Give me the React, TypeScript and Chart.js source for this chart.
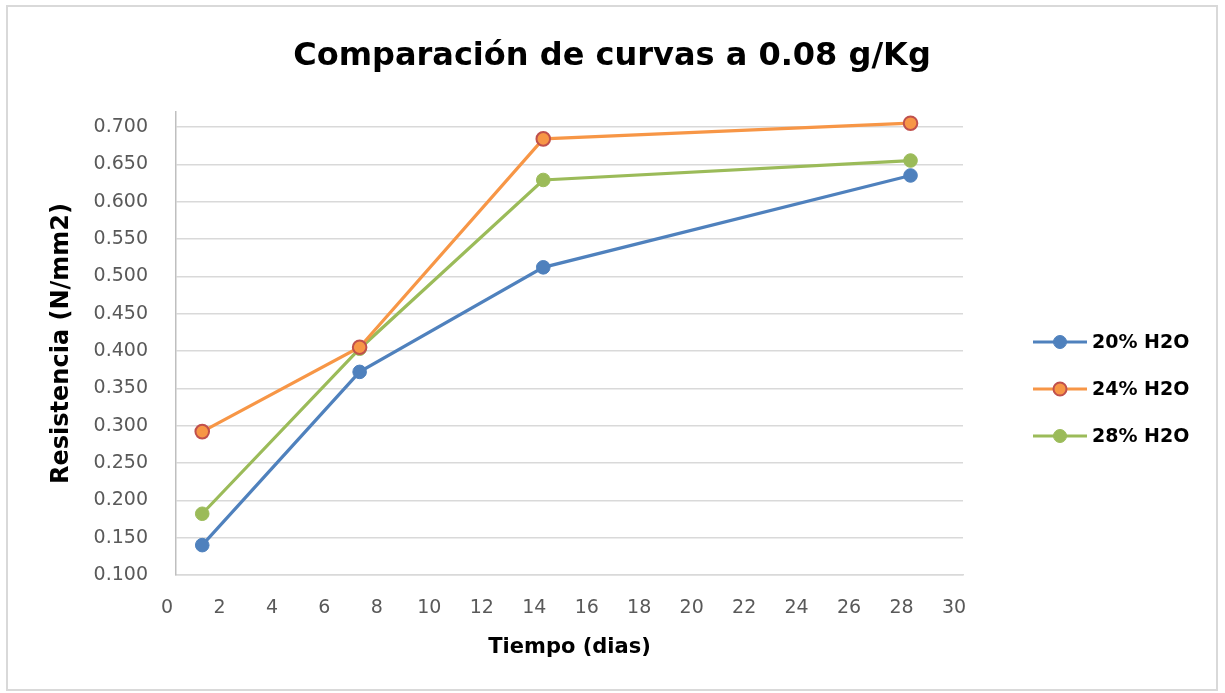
import React, { useEffect, useRef } from "react";
import { Chart, registerables } from "chart.js";

Chart.register(...registerables);

const days = [1, 7, 14, 28];
const seriesNames = ["20% H2O", "24% H2O", "28% H2O"];
const h2o20 = [0.14, 0.372, 0.512, 0.635];
const h2o24 = [0.292, 0.405, 0.684, 0.705];
const h2o28 = [0.182, 0.403, 0.629, 0.655];
const yTickValues = [0.1, 0.15, 0.2, 0.25, 0.3, 0.35, 0.4, 0.45, 0.5, 0.55, 0.6, 0.65, 0.7];
const chartTitle = "Comparación de curvas a 0.08 g/Kg";
const xTitle = "Tiempo (dias)";
const yTitle = "Resistencia (N/mm2)";

const FONT = "DejaVu Sans";

const legendPlugin = {
  id: "sideLegend",
  afterDraw(chart: any) {
    const ctx = chart.ctx;
    const ys = [335, 382, 429];
    ctx.save();
    chart.data.datasets.forEach((ds: any, i: number) => {
      const y = ys[i];
      ctx.strokeStyle = ds.borderColor;
      ctx.lineWidth = 3;
      ctx.beginPath();
      ctx.moveTo(1025, y);
      ctx.lineTo(1079, y);
      ctx.stroke();
      ctx.beginPath();
      ctx.arc(1052, y, 6.5, 0, Math.PI * 2);
      ctx.fillStyle = ds.pointBackgroundColor;
      ctx.fill();
      ctx.lineWidth = ds.pointBorderWidth;
      ctx.strokeStyle = ds.pointBorderColor;
      ctx.stroke();
      ctx.fillStyle = "#000";
      ctx.font = `bold 19px "${FONT}"`;
      ctx.textAlign = "left";
      ctx.textBaseline = "middle";
      ctx.fillText(ds.label, 1084, y + 1);
    });
    ctx.restore();
  },
};

export default function App() {
  const ref = useRef<HTMLCanvasElement>(null);
  useEffect(() => {
    const toPts = (vals: number[]) => days.map((d, i) => ({ x: d, y: vals[i] }));
    const mk = (label: string, vals: number[], color: string, border: string, bw: number) => ({
      label,
      data: toPts(vals),
      borderColor: color,
      backgroundColor: color,
      borderWidth: 3.2,
      pointRadius: 6.8,
      pointHoverRadius: 6.8,
      pointBackgroundColor: color,
      pointBorderColor: border,
      pointBorderWidth: bw,
      tension: 0,
    });
    const chart = new Chart(ref.current!, {
      type: "line",
      data: {
        datasets: [
          mk(seriesNames[0], h2o20, "#4f81bd", "#4f81bd", 1),
          mk(seriesNames[1], h2o24, "#f79646", "#c0504d", 2),
          mk(seriesNames[2], h2o28, "#9bbb59", "#9bbb59", 1),
        ],
      },
      options: {
        responsive: false,
        animation: false,
        layout: { padding: { left: 0, right: 0, top: 0, bottom: 24 } },
        plugins: {
          legend: { display: false },
          tooltip: { enabled: false },
          title: {
            display: true,
            text: chartTitle,
            color: "#000",
            font: { family: FONT, size: 32, weight: "bold" },
            padding: { top: 30.8, bottom: 35.8 },
          },
        },
        scales: {
          x: {
            type: "linear",
            min: 0,
            max: 30,
            ticks: {
              stepSize: 2,
              color: "#595959",
              font: { family: FONT, size: 19 },
              padding: 21.5,
              labelOffset: -9,
              maxRotation: 0,
            },
            grid: { display: false, drawTicks: false },
            border: { display: true, color: "#d9d9d9", width: 1.5 },
            title: {
              display: true,
              text: xTitle,
              color: "#000",
              font: { family: FONT, size: 21, weight: "bold" },
              padding: { top: 0, bottom: 4.4 },
            },
            afterFit: (s: any) => {
              s.height = 90;
            },
          },
          y: {
            type: "linear",
            min: 0.1,
            max: 0.72,
            afterBuildTicks: (s: any) => {
              s.ticks = yTickValues.map((v) => ({ value: v }));
            },
            ticks: {
              color: "#595959",
              font: { family: FONT, size: 19 },
              padding: 28,
              callback: (v: any) => Number(v).toFixed(3),
            },
            grid: { color: "#d9d9d9", lineWidth: 1.5, drawTicks: false },
            border: { display: true, color: "#bfbfbf", width: 1.5 },
            title: {
              display: true,
              text: yTitle,
              color: "#000",
              font: { family: FONT, size: 24, weight: "bold" },
              padding: { top: 39.6, bottom: 0 },
            },
            afterFit: (s: any) => {
              s.width = 168;
            },
          },
          yRight: {
            type: "linear",
            position: "right",
            display: true,
            ticks: { display: false },
            grid: { display: false, drawTicks: false },
            border: { display: false },
            afterFit: (s: any) => {
              s.width = 253;
            },
          },
        },
      } as any,
      plugins: [legendPlugin],
    });
    return () => chart.destroy();
  }, []);

  return (
    <div
      style={{
        position: "absolute",
        left: 6,
        top: 5,
        width: 1212,
        height: 686,
        border: "2px solid #d9d9d9",
        boxSizing: "border-box",
        background: "#fff",
      }}
    >
      <canvas ref={ref} width={1208} height={682} style={{ display: "block" }} />
    </div>
  );
}
